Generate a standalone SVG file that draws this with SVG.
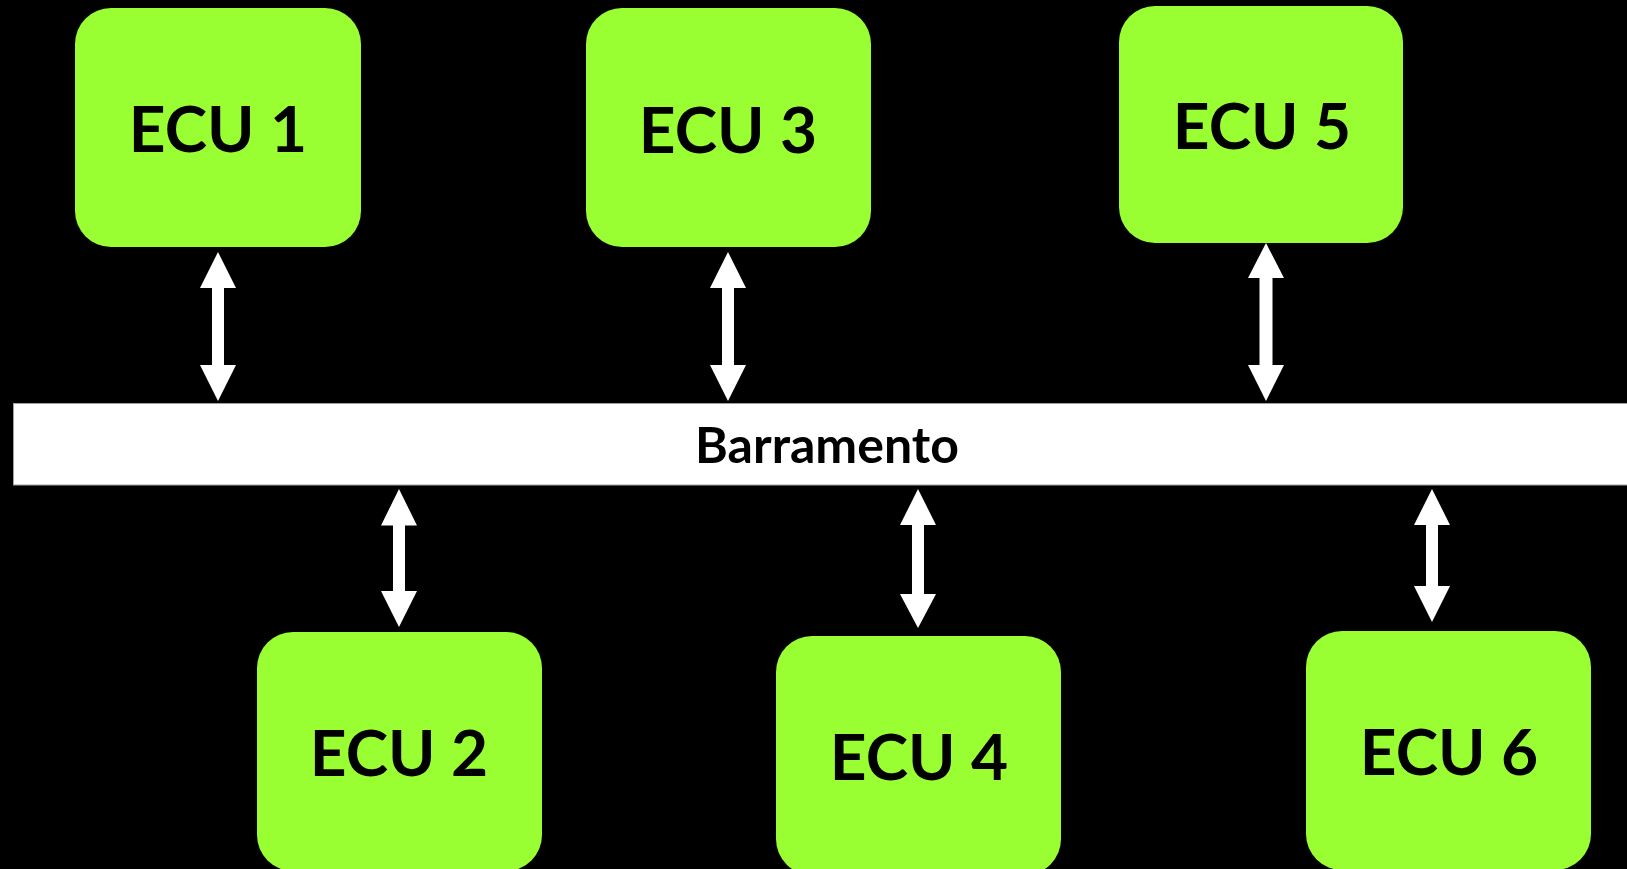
<svg xmlns="http://www.w3.org/2000/svg" width="1627" height="869" viewBox="0 0 1627 869">
  <style>
    .ecu { fill: #99FF33; }
    .ecu-label { font-family: Lato, "Liberation Sans", sans-serif; font-weight: 700; font-size: 64px; fill: #000; text-anchor: middle; }
    .bus { fill: #FFFFFF; stroke: #A0A0A0; stroke-width: 1; }
    .bus-label { font-family: Lato, "Liberation Sans", sans-serif; font-weight: 700; font-size: 50px; fill: #000; text-anchor: middle; }
    .link { fill: #FFFFFF; }
  </style>

  <rect width="1627" height="869" fill="#000"/>

  <!-- shared bus -->
  <g id="bus">
    <rect class="bus" x="13.5" y="403.5" width="1620" height="81.5"/>
    <text class="bus-label" x="827" y="463">Barramento</text>
  </g>

  <!-- top row -->
  <g id="ecu1">
    <rect class="ecu" x="75" y="8" width="286" height="239" rx="36"/>
    <text class="ecu-label" x="218" y="152">ECU 1</text>
  </g>
  <g id="ecu3">
    <rect class="ecu" x="586" y="8" width="285" height="239" rx="36"/>
    <text class="ecu-label" x="728" y="153">ECU 3</text>
  </g>
  <g id="ecu5">
    <rect class="ecu" x="1119" y="6" width="284" height="237" rx="36"/>
    <text class="ecu-label" x="1262" y="149">ECU 5</text>
  </g>

  <!-- bottom row -->
  <g id="ecu2">
    <rect class="ecu" x="257" y="632" width="285" height="239" rx="36"/>
    <text class="ecu-label" x="399" y="776">ECU 2</text>
  </g>
  <g id="ecu4">
    <rect class="ecu" x="776" y="636" width="285" height="239" rx="36"/>
    <text class="ecu-label" x="919" y="780">ECU 4</text>
  </g>
  <g id="ecu6">
    <rect class="ecu" x="1306" y="631" width="285" height="239" rx="36"/>
    <text class="ecu-label" x="1449" y="775">ECU 6</text>
  </g>

  <!-- double-headed links between each ECU and the bus -->
  <g id="connectors">
    <polygon class="link" points="218,252 236,288 224,288 224,365 236,365 218,401 200,365 212,365 212,288 200,288"/>
    <polygon class="link" points="728,252 746,288 734,288 734,365 746,365 728,401 710,365 722,365 722,288 710,288"/>
    <polygon class="link" points="1266,243 1284,278 1272.5,278 1272.5,365 1284,365 1266,401 1248,365 1259.5,365 1259.5,278 1248,278"/>
    <polygon class="link" points="399,489 417,525.5 405,525.5 405,591 417,591 399,627 381,591 393,591 393,525.5 381,525.5"/>
    <polygon class="link" points="918,489 936,525 924,525 924,594 936,594 918,628 900,594 912,594 912,525 900,525"/>
    <polygon class="link" points="1432,489 1450,525 1438,525 1438,586 1450,586 1432,622 1414,586 1426,586 1426,525 1414,525"/>
  </g>
</svg>
